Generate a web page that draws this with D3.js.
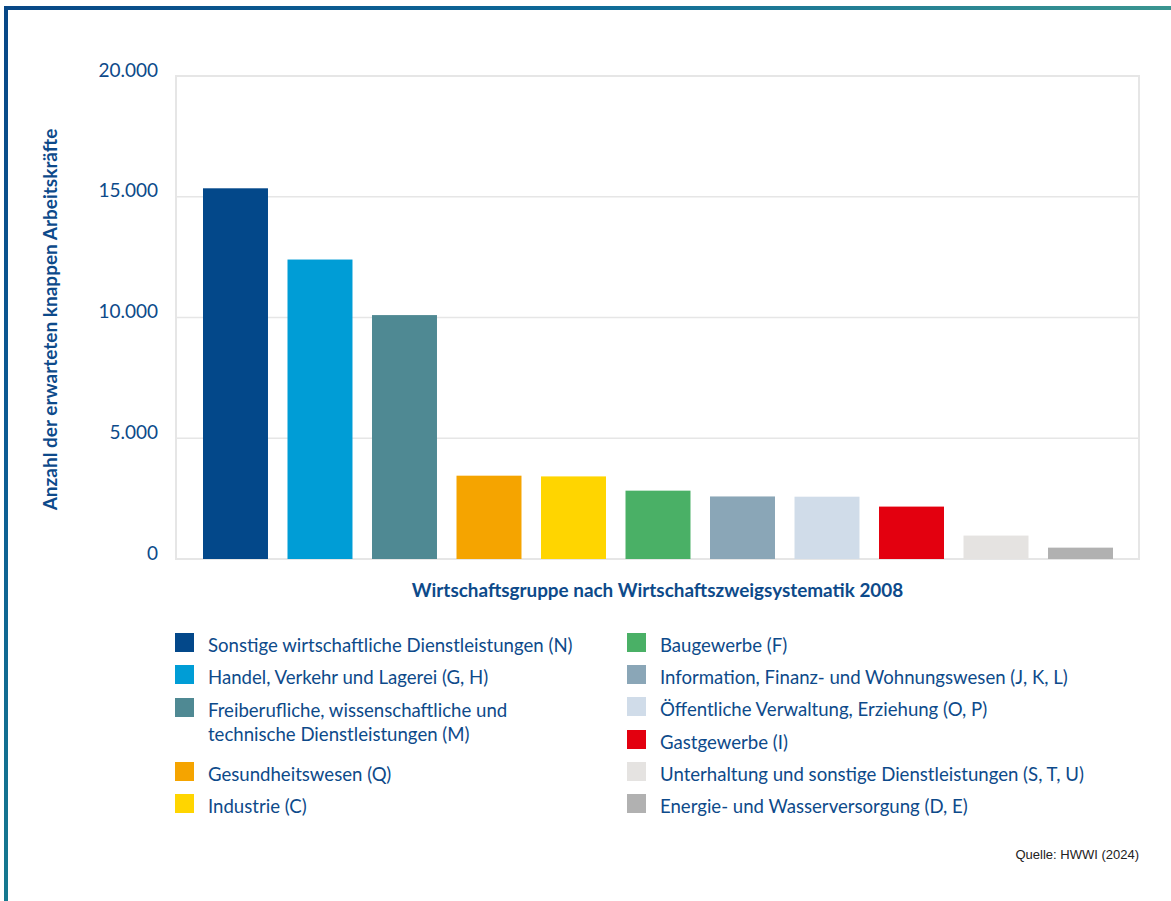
<!DOCTYPE html>
<html lang="de">
<head>
<meta charset="utf-8">
<script src="https://cdn.jsdelivr.net/npm/d3@7"></script>
<style>
  html, body { margin: 0; padding: 0; background: #fff; }
  svg { display: block; }
</style>
</head>
<body>
<svg id="chart" width="1171" height="901"></svg>
<script>
// Erwartete knappe Arbeitskräfte nach Wirtschaftsgruppe (WZ 2008)
const categories = [
  "Sonstige wirtschaftliche Dienstleistungen (N)",
  "Handel, Verkehr und Lagerei (G, H)",
  "Freiberufliche, wissenschaftliche und technische Dienstleistungen (M)",
  "Gesundheitswesen (Q)",
  "Industrie (C)",
  "Baugewerbe (F)",
  "Information, Finanz- und Wohnungswesen (J, K, L)",
  "Öffentliche Verwaltung, Erziehung (O, P)",
  "Gastgewerbe (I)",
  "Unterhaltung und sonstige Dienstleistungen (S, T, U)",
  "Energie- und Wasserversorgung (D, E)"
];
const values = [15350, 12400, 10100, 3450, 3420, 2830, 2590, 2580, 2170, 970, 470];
const colors = ["#03488a", "#009dd6", "#4f8993", "#f5a400", "#ffd500", "#4ab066",
                "#8aa6b7", "#d0dce9", "#e3000f", "#e5e3e1", "#b1b1b1"];
// Legend lines (manual wrap for the long entry)
const legendLines = [
  ["Sonstige wirtschaftliche Dienstleistungen (N)"],
  ["Handel, Verkehr und Lagerei (G, H)"],
  ["Freiberufliche, wissenschaftliche und", "technische Dienstleistungen (M)"],
  ["Gesundheitswesen (Q)"],
  ["Industrie (C)"],
  ["Baugewerbe (F)"],
  ["Information, Finanz- und Wohnungswesen (J, K, L)"],
  ["Öffentliche Verwaltung, Erziehung (O, P)"],
  ["Gastgewerbe (I)"],
  ["Unterhaltung und sonstige Dienstleistungen (S, T, U)"],
  ["Energie- und Wasserversorgung (D, E)"]
];
const yTicks = [0, 5000, 10000, 15000, 20000];
const xTitle = "Wirtschaftsgruppe nach Wirtschaftszweigsystematik 2008";
const yTitle = "Anzahl der erwarteten knappen Arbeitskräfte";
const source = "Quelle: HWWI (2024)";

const TEXT = "#0d4a8a";
const FONT = "Lato, 'Open Sans', sans-serif";

const svg = d3.select("#chart");
const W = 1171, H = 901;

// Frame gradients
const defs = svg.append("defs");
const gTop = defs.append("linearGradient").attr("id", "frameTop")
  .attr("gradientUnits", "userSpaceOnUse").attr("x1", 0).attr("y1", 0).attr("x2", W).attr("y2", 0);
gTop.append("stop").attr("offset", "0%").attr("stop-color", "#084786");
gTop.append("stop").attr("offset", "50%").attr("stop-color", "#0e6a98");
gTop.append("stop").attr("offset", "100%").attr("stop-color", "#3a9590");
const gLeft = defs.append("linearGradient").attr("id", "frameLeft")
  .attr("gradientUnits", "userSpaceOnUse").attr("x1", 0).attr("y1", 0).attr("x2", 0).attr("y2", H);
gLeft.append("stop").attr("offset", "0%").attr("stop-color", "#084786");
gLeft.append("stop").attr("offset", "50%").attr("stop-color", "#0c5c94");
gLeft.append("stop").attr("offset", "100%").attr("stop-color", "#16798f");

svg.append("rect").attr("x", 4).attr("y", 6).attr("width", W - 4).attr("height", 4).attr("fill", "url(#frameTop)");
svg.append("rect").attr("x", 4).attr("y", 6).attr("width", 4).attr("height", H - 6).attr("fill", "url(#frameLeft)");

// Plot area
const plot = { left: 176, right: 1139, top: 76, bottom: 559 };

const y = d3.scaleLinear().domain([0, 20000]).range([plot.bottom, plot.top]);
const x = d3.scaleBand().domain(categories).range([203, 1113]).paddingInner(0.231).paddingOuter(0);

// Gridlines
svg.append("g")
  .selectAll("line").data(yTicks).join("line")
  .attr("x1", plot.left).attr("x2", plot.right)
  .attr("y1", d => y(d)).attr("y2", d => y(d))
  .attr("stroke", "#e6e6e6").attr("stroke-width", 1.5);

// Plot border
svg.append("rect")
  .attr("x", plot.left).attr("y", plot.top)
  .attr("width", plot.right - plot.left).attr("height", plot.bottom - plot.top)
  .attr("fill", "none").attr("stroke", "#e6e6e6").attr("stroke-width", 2);

// Y-axis tick labels
const fmt = d3.formatLocale({ decimal: ",", thousands: ".", grouping: [3], currency: ["", " €"] }).format(",d");
const yAxis = d3.axisLeft(y).tickValues(yTicks).tickFormat(fmt).tickSize(0).tickPadding(0);
const yg = svg.append("g").attr("transform", `translate(158,0)`).call(yAxis);
yg.select(".domain").remove();
yg.selectAll("text")
  .attr("dy", 0)
  .attr("fill", TEXT)
  .style("font-family", FONT)
  .style("font-size", "19px");

// Bars
svg.append("g")
  .selectAll("rect").data(categories).join("rect")
  .attr("x", d => x(d))
  .attr("width", x.bandwidth())
  .attr("y", (d, i) => y(values[i]))
  .attr("height", (d, i) => y(0) - y(values[i]))
  .attr("fill", (d, i) => colors[i]);

// Axis titles
svg.append("text")
  .attr("x", (plot.left + plot.right) / 2).attr("y", 597)
  .attr("text-anchor", "middle")
  .attr("fill", TEXT)
  .style("font-family", FONT).style("font-weight", "bold").style("font-size", "18.9px")
  .text(xTitle);

svg.append("text")
  .attr("transform", `translate(57,${(plot.top + plot.bottom) / 2 + 2}) rotate(-90)`)
  .attr("text-anchor", "middle")
  .attr("fill", TEXT)
  .style("font-family", FONT).style("font-weight", "bold").style("font-size", "19px")
  .text(yTitle);

// Legend: two columns
const legendCols = [
  { x: 175, items: [0, 1, 2, 3, 4], rowY: [633, 665, 698, 762, 794] },
  { x: 627, items: [5, 6, 7, 8, 9, 10], rowY: [633, 665, 697, 730, 762, 794] }
];
const legend = svg.append("g");
legendCols.forEach(col => {
  col.items.forEach((idx, r) => {
    const g = legend.append("g").attr("transform", `translate(${col.x},${col.rowY[r]})`);
    g.append("rect").attr("width", 19).attr("height", 19).attr("fill", colors[idx]);
    const t = g.append("text")
      .attr("x", 33).attr("y", 19)
      .attr("fill", TEXT)
      .style("font-family", FONT).style("font-size", "18.6px");
    legendLines[idx].forEach((line, k) => {
      t.append("tspan").attr("x", 33).attr("dy", k === 0 ? 0 : 24).text(line);
    });
  });
});

// Source note
svg.append("text")
  .attr("x", 1139).attr("y", 859)
  .attr("text-anchor", "end")
  .attr("fill", "#222")
  .style("font-family", "'Liberation Sans', Arial, sans-serif").style("font-size", "13px")
  .text(source);
</script>
</body>
</html>
